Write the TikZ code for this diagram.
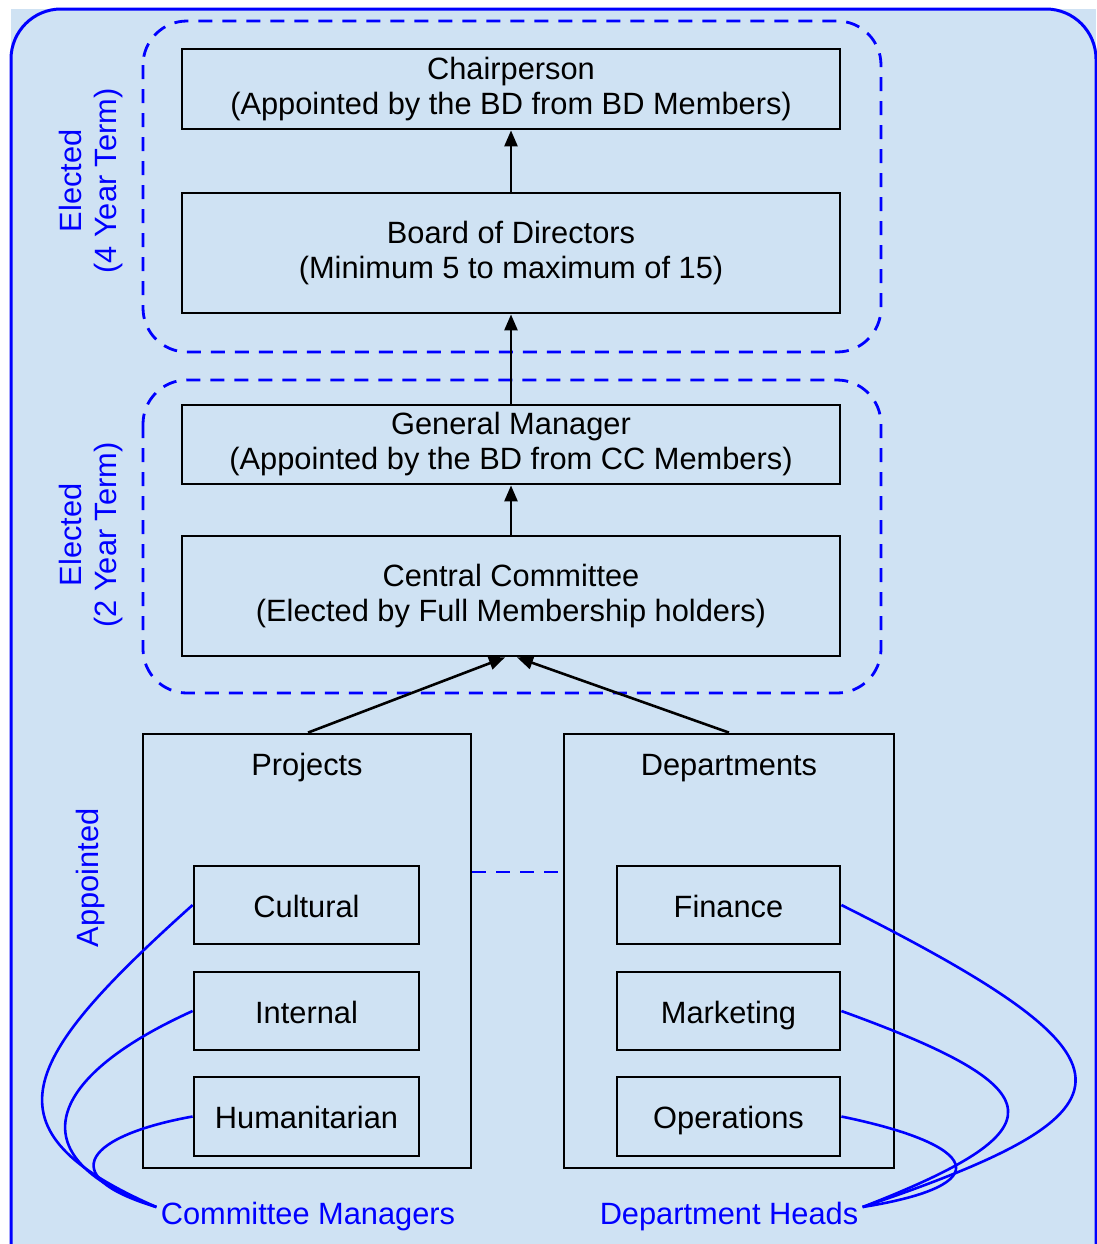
\documentclass[tikz,border=0pt]{standalone}
\usepackage{fontspec}
\setmainfont{Liberation Sans}
\usetikzlibrary{arrows.meta}
\definecolor{bgblue}{HTML}{CFE2F3}

\begin{document}
\begin{tikzpicture}[x=0.5pt,y=-0.5pt,
	every node/.style={font=\fontsize{15.4}{17.5}\selectfont},
	box/.style={draw,line width=1.4pt,align=center,inner sep=0pt},
	unit/.style={box,text height=12pt,text depth=0pt},
	group/.style={draw=blue,dash pattern=on 7pt off 5pt,line width=1.4pt,rounded corners=22pt},
	lbl/.style={text=blue,align=center},
	arr/.style={-{Triangle[length=8pt,width=6.5pt]},line width=1.3pt},
	link/.style={blue,line width=1.3pt}]
	\useasboundingbox (0,0) rectangle (1097,1244);
	\fill[bgblue] (11,9) rectangle (1096,1300);
	\draw[blue,line width=1.5pt,fill=bgblue,rounded corners=25pt] (11,1300) -- (11,9) -- (1096,9) -- (1096,1300);
	% elected groups
	\draw[group] (143,21) rectangle (881,352);
	\draw[group] (143,380) rectangle (881,693);
	\node[lbl,rotate=90] (el4) at (91,181) {Elected\\(4 Year Term)};
	\node[lbl,rotate=90] (el2) at (91,535) {Elected\\(2 Year Term)};
	\node[lbl,rotate=90] (appt) at (91,878) {Appointed};
	% top chain
	\node[box,minimum width=329pt,minimum height=40pt] (chair) at (511,89) {Chairperson\\(Appointed by the BD from BD Members)};
	\node[box,minimum width=329pt,minimum height=60pt] (bod) at (511,253) {Board of Directors\\(Minimum 5 to maximum of 15)};
	\node[box,minimum width=329pt,minimum height=39.5pt] (gm) at (511,444.5) {General Manager\\(Appointed by the BD from CC Members)};
	\node[box,minimum width=329pt,minimum height=60pt] (cc) at (511,596) {Central Committee\\(Elected by Full Membership holders)};
	\draw[arr] (bod) -- (chair);
	\draw[arr] (gm) -- (bod);
	\draw[arr] (cc) -- (gm);
	% projects and departments
	\node[box,minimum width=164pt,minimum height=217pt] (proj) at (307,951) {};
	\node[box,minimum width=165pt,minimum height=217pt] (dept) at (729,951) {};
	\node (projlbl) at (307,768) {Projects};
	\node (deptlbl) at (729,768) {Departments};
	\draw[arr] ([xshift=0.5pt]proj.north) -- ([xshift=-3pt]cc.south);
	\draw[arr] (dept.north) -- ([xshift=3pt]cc.south);
	\draw[link,dash pattern=on 7pt off 5pt] ([yshift=39.5pt]proj.east) -- ([yshift=39.5pt]dept.west);
	\node[unit,minimum width=112.5pt,minimum height=39pt] (cult) at (306.5,905) {Cultural};
	\node[unit,minimum width=112.5pt,minimum height=39pt] (intl) at (306.5,1011) {Internal};
	\node[unit,minimum width=112.5pt,minimum height=39.5pt] (hum) at (306.5,1116.5) {Humanitarian};
	\node[unit,minimum width=111.5pt,minimum height=39pt] (fin) at (728.5,905) {Finance};
	\node[unit,minimum width=111.5pt,minimum height=39pt] (mkt) at (728.5,1011) {Marketing};
	\node[unit,minimum width=111.5pt,minimum height=39.5pt] (ops) at (728.5,1116.5) {Operations};
	% managers and heads
	\node[lbl,inner sep=2pt] (cm) at (308,1217) {Committee Managers};
	\node[lbl,inner sep=2pt] (dh) at (729,1217) {Department Heads};
	\draw[link] (cult.west) .. controls (20,1060) and (-20,1130) .. ([yshift=5pt]cm.west);
	\draw[link] (intl.west) .. controls (40,1080) and (20,1160) .. ([yshift=5pt]cm.west);
	\draw[link] (hum.west) .. controls (90,1135) and (50,1175) .. ([yshift=5pt]cm.west);
	\draw[link] (fin.east) .. controls (1150,1060) and (1150,1110) .. ([yshift=5pt]dh.east);
	\draw[link] (mkt.east) .. controls (1060,1090) and (1060,1130) .. ([yshift=5pt]dh.east);
	\draw[link] (ops.east) .. controls (980,1145) and (1000,1185) .. ([yshift=5pt]dh.east);
\end{tikzpicture}
\end{document}
